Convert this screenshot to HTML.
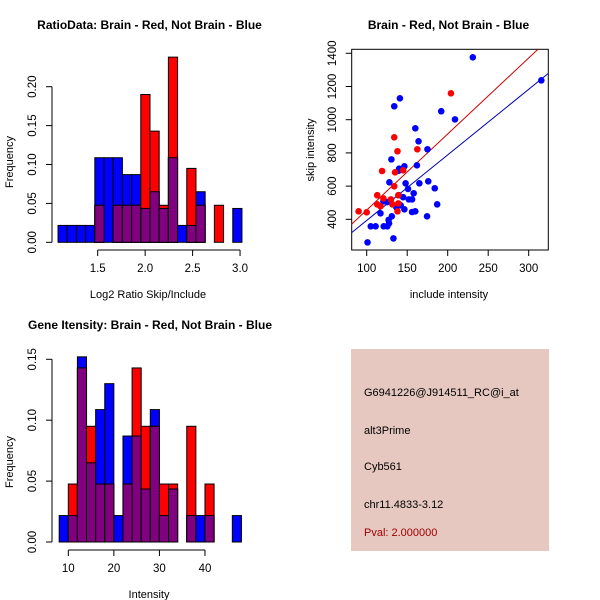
<!DOCTYPE html>
<html><head><meta charset="utf-8"><style>
html,body{margin:0;padding:0;background:#fff;}
svg{display:block;font-family:"Liberation Sans",Arial,sans-serif;}
</style></head><body>
<svg id="s" width="600" height="600" viewBox="0 0 600 600" xmlns="http://www.w3.org/2000/svg">
<defs><clipPath id="sc"><rect x="351.7" y="49.3" width="196.6" height="200.7"/></clipPath></defs>
<g id="h1"></g>
<g id="sp"></g>
<g id="h2"></g>
<g>
<rect x="351" y="349" width="198" height="202" fill="#e6c8c1"/>
<text x="364" y="396" font-size="11" fill="#000">G6941226@J914511_RC@i_at</text>
<text x="364" y="434" font-size="11" fill="#000">alt3Prime</text>
<text x="364" y="470" font-size="11" fill="#000">Cyb561</text>
<text x="364" y="508" font-size="11" fill="#000">chr11.4833-3.12</text>
<text x="364" y="536" font-size="11" fill="#a00000">Pval: 2.000000</text>
</g>
</svg>
<script>
// ---- Ratio histogram data ----
const ratioBinStart = 1.082;
const ratioBinWidth = 0.0969;
const ratioBlue = [0.0217,0.0217,0.0217,0.0217,0.1087,0.1087,0.1087,0.087,0.087,0.0435,0.065,0.0435,0.1087,0.0217,0.0217,0.065,0,0,0,0.0435];
const ratioRed  = [0,0,0,0,0.0476,0,0.0476,0.0476,0.0476,0.19,0.1429,0.0476,0.238,0,0.095,0.0476,0,0.0476,0,0];
const ratioXTicks = [1.5,2.0,2.5,3.0];
const ratioXLabels = ["1.5","2.0","2.5","3.0"];
const ratioYTicks = [0,0.05,0.10,0.15,0.20];
const ratioYLabels = ["0.00","0.05","0.10","0.15","0.20"];
// ---- Intensity histogram data ----
const intBinStart = 8;
const intBinWidth = 2;
const intBlue = [0.0217,0.0217,0.152,0.065,0.1087,0.13,0.0217,0.087,0.087,0.0435,0.1087,0.0217,0.0435,0,0.0217,0.0217,0.0217,0,0,0.0217];
const intRed  = [0,0.0476,0.1429,0.095,0.0476,0.0476,0,0.0476,0.1429,0.095,0.095,0.0476,0.0476,0,0.095,0,0.0476,0,0,0];
const intXTicks = [10,20,30,40];
const intXLabels = ["10","20","30","40"];
const intYTicks = [0,0.05,0.10,0.15];
const intYLabels = ["0.00","0.05","0.10","0.15"];
// ---- Scatter data ----
const blueInclude = [231,315.6,192,209,141,134,160,164,175,162,146.5,140,139.5,130.5,128,148,165,176,151,184,158,145,152,156,139.5,187,142,136.6,146.5,160,156,174.5,120.6,125.5,117,131,127,127.6,125.5,121,111,105,133,101];
const blueSkip    = [1376,1237,1051,1002,1129,1081,948,870,822,725,719,705,693,761,623,617,617,629,583,587,557,533,520,520,545,490,484,472,460,448,444,418,508,504,436,418,396,376,358,358,358,358,285,261];
const redInclude  = [204,134,138,162.5,119,135,145,134,139,113,120.6,130,113,117,131.7,139,138,90,100];
const redSkip     = [1159,894,810,822,691,683,695,599,545,545,526,520,490,478,490,496,448,448,442];
const fitSlopes = [4.58,3.95];      // red, blue
const fitIntercepts = [-2,-2];
const scXTicks = [100,150,200,250,300];
const scYTicks = [400,600,800,1000,1200,1400];

const NS="http://www.w3.org/2000/svg";
function mk(parent,tag,attrs){const e=document.createElementNS(NS,tag);for(const k in attrs)e.setAttribute(k,attrs[k]);parent.appendChild(e);return e;}
function txt(parent,x,y,s,size,extra){const t=mk(parent,'text',Object.assign({x:x,y:y,'font-size':size,'text-anchor':'middle',fill:'#000'},extra||{}));t.textContent=s;return t;}

function axes(g,xs,ys,xTicks,xLabels,yTicks,yLabels,axisY,axisX){
  const xa=mk(g,'g',{});
  
  
  mk(xa,'line',{x1:xs(xTicks[0]),x2:xs(xTicks[xTicks.length-1]),y1:axisY,y2:axisY,stroke:'#000'});
  xTicks.forEach((v,i)=>{
    mk(xa,'line',{x1:xs(v),x2:xs(v),y1:axisY,y2:axisY+6,stroke:'#000'});
    const t=txt(xa,xs(v),axisY+22,xLabels[i],11.5);
    
    
  });
  const ya=mk(g,'g',{});
  
  
  mk(ya,'line',{x1:axisX,x2:axisX,y1:ys(yTicks[0]),y2:ys(yTicks[yTicks.length-1]),stroke:'#000'});
  yTicks.forEach((v,i)=>{
    mk(ya,'line',{x1:axisX,x2:axisX-6,y1:ys(v),y2:ys(v),stroke:'#000'});
    const t=txt(ya,0,0,yLabels[i],11.5,{transform:`translate(${axisX-16},${ys(v)}) rotate(-90)`});
    
    
  });
}

function hist(g,xs,ys,start,w,blue,red){
  for(let k=0;k<blue.length;k++){
    const x0=xs(start+k*w),x1=xs(start+(k+1)*w);
    const draw=(v,col,name)=>{ if(v<=0)return;
      const r=mk(g,'rect',{x:x0,y:ys(v),width:x1-x0,height:ys(0)-ys(v),fill:col,stroke:'#000','stroke-width':1});
      
      
    };
    draw(blue[k],'#0000ff','bar-not-brain');
    draw(red[k],'#ff0000','bar-brain');
    if(blue[k]>0&&red[k]>0) draw(Math.min(blue[k],red[k]),'#800080','bar-overlap');
  }
}

// Histogram 1
(function(){
  const g=document.getElementById('h1');
  const xs=v=>97.7+(v-1.5)*94.9, ys=v=>242.3-v*778;
  hist(g,xs,ys,ratioBinStart,ratioBinWidth,ratioBlue,ratioRed);
  axes(g,xs,ys,ratioXTicks,ratioXLabels,ratioYTicks,ratioYLabels,250,52);
  let t=txt(g,149.5,29,'RatioData: Brain - Red, Not Brain - Blue',12,{'font-weight':'bold'});
  
  t=txt(g,148,298,'Log2 Ratio Skip/Include',11);
  
  t=txt(g,0,0,'Frequency',11,{transform:'translate(13,162) rotate(-90)'});
  
})();

// Histogram 2
(function(){
  const g=document.getElementById('h2');
  const xs=v=>68.3+(v-10)*4.556, ys=v=>542-v*1218;
  hist(g,xs,ys,intBinStart,intBinWidth,intBlue,intRed);
  axes(g,xs,ys,intXTicks,intXLabels,intYTicks,intYLabels,550,52);
  let t=txt(g,150,329,'Gene Itensity: Brain - Red, Not Brain - Blue',12,{'font-weight':'bold'});
  
  t=txt(g,149,598,'Intensity',11);
  
  t=txt(g,0,0,'Frequency',11,{transform:'translate(13,462) rotate(-90)'});
  
})();

// Scatter
(function(){
  const g=document.getElementById('sp');
  const xs=v=>366.7+(v-100)*0.81, ys=v=>219.3-(v-400)*0.166;
  const box=mk(g,'rect',{x:351.7,y:49.3,width:196.6,height:200.7,fill:'none',stroke:'#000'});
  
  
  const sl=scXTicks.map(String), yl=scYTicks.map(String);
  const xa=mk(g,'g',{});
  
  
  scXTicks.forEach((v,i)=>{mk(xa,'line',{x1:xs(v),x2:xs(v),y1:250,y2:256,stroke:'#000'});
    const t=txt(xa,xs(v),272,sl[i],11.5);});
  const ya=mk(g,'g',{});
  
  
  scYTicks.forEach((v,i)=>{mk(ya,'line',{x1:351.7,x2:345.7,y1:ys(v),y2:ys(v),stroke:'#000'});
    const t=txt(ya,0,0,yl[i],11.5,{transform:`translate(336,${ys(v)}) rotate(-90)`});});
  const cl=mk(g,'g',{'clip-path':'url(#sc)'});
  const cols=['#cc0000','#0000b0'], names=['fit-line-brain','fit-line-not-brain'];
  fitSlopes.forEach((s,i)=>{
    const a=60,b=360;
    const l=mk(cl,'line',{x1:xs(a),y1:ys(fitIntercepts[i]+s*a),x2:xs(b),y2:ys(fitIntercepts[i]+s*b),stroke:cols[i],'stroke-width':1});
    
    
  });
  blueInclude.forEach((v,i)=>{const c=mk(cl,'circle',{cx:xs(v),cy:ys(blueSkip[i]),r:3.3,fill:'#0000ff'});
    });
  redInclude.forEach((v,i)=>{const c=mk(cl,'circle',{cx:xs(v),cy:ys(redSkip[i]),r:3.3,fill:'#ff0000'});
    });
  let t=txt(g,448.5,29,'Brain - Red, Not Brain - Blue',12,{'font-weight':'bold'});
  
  t=txt(g,449,298,'include intensity',11);
  
  t=txt(g,0,0,'skip intensity',11,{transform:'translate(314,150) rotate(-90)'});
  
})();
</script>
</body></html>
